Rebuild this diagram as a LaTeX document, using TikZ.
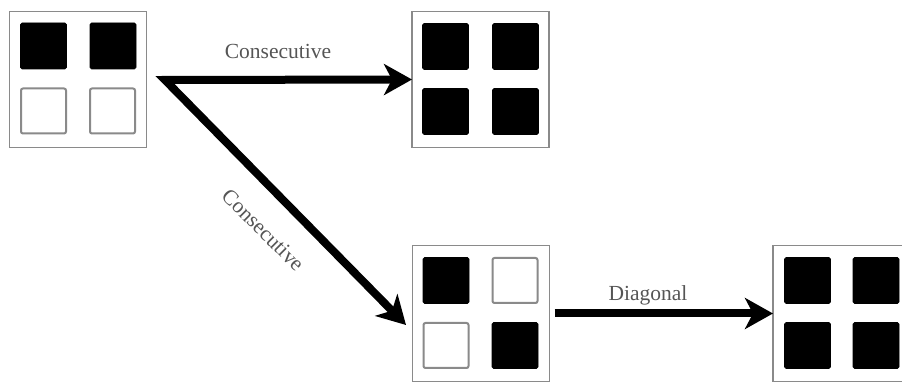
\documentclass[tikz,border=0pt]{standalone}
\usepackage{fontspec}
\setmainfont{Liberation Serif}
\usetikzlibrary{arrows.meta}
\definecolor{boxgray}{HTML}{8A8A8A}
\definecolor{textgray}{HTML}{555555}
\tikzset{
  panel/.style={draw=boxgray, line width=1.6pt, fill=white, minimum width=137pt, minimum height=136pt, inner sep=0pt, outer sep=0pt},
  blk/.style={fill=black, draw=black, line width=0.6pt, rounded corners=1.5pt, minimum size=46pt, inner sep=0pt},
  wht/.style={fill=white, draw=boxgray, line width=2pt, rounded corners=2pt, minimum size=45pt, inner sep=0pt},
  bigarrow/.style={line width=8pt, line join=miter, {Stealth[length=28pt,width=31pt,inset=8pt]}-{Stealth[length=28pt,width=31pt,inset=8pt]}},
  onearrow/.style={line width=8pt, -{Stealth[length=28pt,width=31pt,inset=8pt]}},
  lbl/.style={font=\fontsize{21.5pt}{24pt}\selectfont, text=textgray, inner sep=0pt}
}
\begin{document}
\begin{tikzpicture}[x=1pt,y=1pt]
\useasboundingbox (0,0) rectangle (902,382);
\clip (0,0) rectangle (902,382);
% panels
\node[panel] (b1) at (78,302.5) {};
\node[panel] (b2) at (480.5,302.5) {};
\node[panel] (b3) at (481,68.5) {};
\node[panel] (b4) at (841.5,68.5) {};
% panel 1
\node[blk] (b1a) at ([shift={(-34.5,33.5)}]b1) {};
\node[blk] (b1b) at ([shift={(35,33.5)}]b1) {};
\node[wht] (b1c) at ([shift={(-34.5,-31.5)}]b1) {};
\node[wht] (b1d) at ([shift={(34.5,-31.5)}]b1) {};
% panel 2
\node[blk] (b2a) at ([shift={(-35,33)}]b2) {};
\node[blk] (b2b) at ([shift={(35,33)}]b2) {};
\node[blk] (b2c) at ([shift={(-35,-32)}]b2) {};
\node[blk] (b2d) at ([shift={(35,-32)}]b2) {};
% panel 3
\node[blk] (b3a) at ([shift={(-35,33)}]b3) {};
\node[wht] (b3b) at ([shift={(34,33)}]b3) {};
\node[wht] (b3c) at ([shift={(-35,-32)}]b3) {};
\node[blk] (b3d) at ([shift={(34,-32)}]b3) {};
% panel 4
\node[blk] (b4a) at ([shift={(-34,33)}]b4) {};
\node[blk] (b4b) at ([shift={(34.5,33)}]b4) {};
\node[blk] (b4c) at ([shift={(-34,-32)}]b4) {};
\node[blk] (b4d) at ([shift={(34.5,-32)}]b4) {};
% connectors
\coordinate (s) at (165,302);
\coordinate (dend) at (406,57);
\draw[bigarrow] (b2.west) -- (s) -- (dend);
\draw[onearrow] ([xshift=5pt]b3.east) -- (b4.west);
% labels
\node[lbl] (l1) at (278,331) {Consecutive};
\node[lbl, rotate=-45] (l2) at (263,152) {Consecutive};
\node[lbl] (l3) at (648,87) {Diagonal};
\end{tikzpicture}
\end{document}
